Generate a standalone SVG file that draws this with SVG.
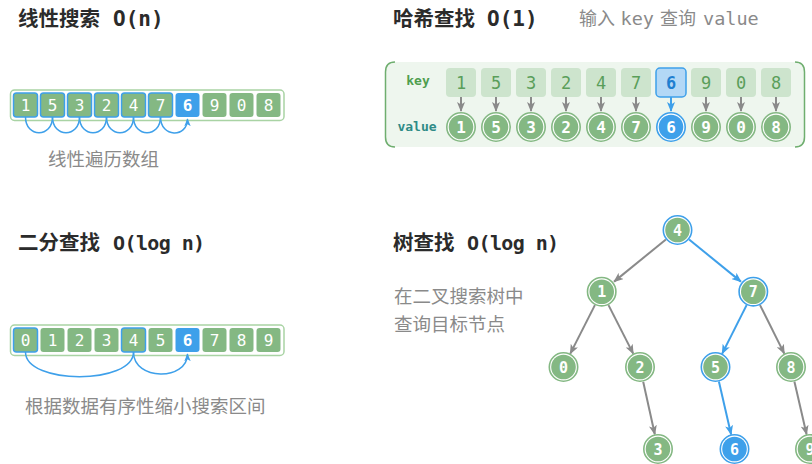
<svg xmlns="http://www.w3.org/2000/svg" width="812" height="464" viewBox="0 0 812 464">
<defs>
<style>
.title{font-family:"Noto Sans CJK SC","Noto Sans",sans-serif;font-weight:bold;font-size:20.5px;fill:#2b2b2b}
.mono{font-family:"DejaVu Sans Mono","Liberation Mono",monospace}
.tm{font-family:"DejaVu Sans Mono","Liberation Mono",monospace;font-size:21px}
.tl{font-family:"DejaVu Sans Mono","Liberation Mono",monospace;font-size:20px;letter-spacing:-0.6px}
.cap{font-family:"Noto Sans CJK SC","Noto Sans",sans-serif;font-size:18.5px;fill:#8a8a8a}
.cell{fill:#84b883}
.outer{fill:#fff;stroke:#a9d3a4;stroke-width:1.5}
.cd{font-family:"DejaVu Sans Mono","Liberation Mono",monospace;font-size:16px;fill:#fff;text-anchor:middle}
.sel{stroke:#3ea0ea;stroke-width:1.5}
.hl{fill:#3ea0ea}
.arc{fill:none;stroke:#3ea0ea;stroke-width:1.5}
.kbox{fill:#cde4cd}
.kt{font-family:"DejaVu Sans Mono","Liberation Mono",monospace;font-size:17px;fill:#5a9e5a;text-anchor:middle}
.vt{font-family:"DejaVu Sans Mono","Liberation Mono",monospace;font-size:16px;font-weight:bold;fill:#fff;text-anchor:middle}
.ga{stroke:#8a8a8a;stroke-width:2;fill:none}
.ba{stroke:#3ea0ea;stroke-width:2;fill:none}
.ring{fill:#fff;stroke:#84b883;stroke-width:1.6}
.ringb{fill:#fff;stroke:#3ea0ea;stroke-width:1.6}
.core{fill:#84b883}
.coreb{fill:#3ea0ea}
.sub{font-size:18px;fill:#8a8a8a}
</style>
<marker id="mg" viewBox="0 0 10 8" markerWidth="10" markerHeight="8" refX="9" refY="4" orient="auto" markerUnits="userSpaceOnUse"><path d="M0,0 L10,4 L0,8 L2.5,4 z" fill="#8a8a8a"/></marker>
<marker id="mb" viewBox="0 0 10 8" markerWidth="10" markerHeight="8" refX="9" refY="4" orient="auto" markerUnits="userSpaceOnUse"><path d="M0,0 L10,4 L0,8 L2.5,4 z" fill="#3ea0ea"/></marker>
<marker id="ms" viewBox="0 0 10 8" markerWidth="8" markerHeight="7" refX="9" refY="4" orient="auto" markerUnits="userSpaceOnUse"><path d="M0,0 L10,4 L0,8 L2.5,4 z" fill="#3ea0ea"/></marker>
</defs>

<!-- Titles -->
<text class="title" x="18" y="26">线性搜索<tspan class="tm" x="113">O(n)</tspan></text>
<text class="title" x="393" y="26">哈希查找<tspan class="tm" x="487">O(1)</tspan></text>
<text class="sub" y="25" style="font-family:'Noto Sans CJK SC','Noto Sans',sans-serif"><tspan x="579">输入</tspan><tspan x="620.5" class="mono" style="font-size:18.5px">key</tspan><tspan x="660">查询</tspan><tspan x="703" class="mono" style="font-size:18.5px">value</tspan></text>
<text class="title" x="18" y="250">二分查找<tspan class="tl" x="113">O(log n)</tspan></text>
<text class="title" x="393" y="250">树查找<tspan class="tl" x="467">O(log n)</tspan></text>

<!-- Linear search -->
<g id="linear-array">
<rect class="outer" x="10.5" y="90" width="273.5" height="30.5" rx="4"/>
<rect class="cell sel" x="13.5" y="93" width="24" height="24" rx="3"/>
<rect class="cell sel" x="40.5" y="93" width="24" height="24" rx="3"/>
<rect class="cell sel" x="67.5" y="93" width="24" height="24" rx="3"/>
<rect class="cell sel" x="94.5" y="93" width="24" height="24" rx="3"/>
<rect class="cell sel" x="121.5" y="93" width="24" height="24" rx="3"/>
<rect class="cell sel" x="148.5" y="93" width="24" height="24" rx="3"/>
<rect class="hl" x="175.5" y="93" width="24" height="24" rx="3"/>
<rect class="cell" x="202.5" y="93" width="24" height="24" rx="3"/>
<rect class="cell" x="229.5" y="93" width="24" height="24" rx="3"/>
<rect class="cell" x="256.5" y="93" width="24" height="24" rx="3"/>
<text class="cd" x="25.5" y="110.8">1</text>
<text class="cd" x="52.5" y="110.8">5</text>
<text class="cd" x="79.5" y="110.8">3</text>
<text class="cd" x="106.5" y="110.8">2</text>
<text class="cd" x="133.5" y="110.8">4</text>
<text class="cd" x="160.5" y="110.8">7</text>
<text class="cd" x="187.5" y="110.8" font-weight="bold">6</text>
<text class="cd" x="214.5" y="110.8">9</text>
<text class="cd" x="241.5" y="110.8">0</text>
<text class="cd" x="268.5" y="110.8">8</text>
</g>
<g id="linear-arcs">
<path class="arc" d="M25.5 117 C25.5 138 52.5 138 52.5 117"/>
<path class="arc" d="M52.5 117 C52.5 138 79.5 138 79.5 117"/>
<path class="arc" d="M79.5 117 C79.5 138 106.5 138 106.5 117"/>
<path class="arc" d="M106.5 117 C106.5 138 133.5 138 133.5 117"/>
<path class="arc" d="M133.5 117 C133.5 138 160.5 138 160.5 117"/>
<path class="arc" d="M160.5 117 C160.5 138 187.5 138 187.5 119" marker-end="url(#ms)"/>
</g>
<text class="cap" x="48" y="166">线性遍历数组</text>

<!-- Binary search -->
<g id="binary-array">
<rect class="outer" x="10.5" y="325" width="273.5" height="30.5" rx="4"/>
<rect class="cell sel" x="13.5" y="328" width="24" height="24" rx="3"/>
<rect class="cell" x="40.5" y="328" width="24" height="24" rx="3"/>
<rect class="cell" x="67.5" y="328" width="24" height="24" rx="3"/>
<rect class="cell" x="94.5" y="328" width="24" height="24" rx="3"/>
<rect class="cell sel" x="121.5" y="328" width="24" height="24" rx="3"/>
<rect class="cell" x="148.5" y="328" width="24" height="24" rx="3"/>
<rect class="hl" x="175.5" y="328" width="24" height="24" rx="3"/>
<rect class="cell" x="202.5" y="328" width="24" height="24" rx="3"/>
<rect class="cell" x="229.5" y="328" width="24" height="24" rx="3"/>
<rect class="cell" x="256.5" y="328" width="24" height="24" rx="3"/>
<text class="cd" x="25.5" y="345.8">0</text>
<text class="cd" x="52.5" y="345.8">1</text>
<text class="cd" x="79.5" y="345.8">2</text>
<text class="cd" x="106.5" y="345.8">3</text>
<text class="cd" x="133.5" y="345.8">4</text>
<text class="cd" x="160.5" y="345.8">5</text>
<text class="cd" x="187.5" y="345.8" font-weight="bold">6</text>
<text class="cd" x="214.5" y="345.8">7</text>
<text class="cd" x="241.5" y="345.8">8</text>
<text class="cd" x="268.5" y="345.8">9</text>
</g>
<g id="binary-arcs">
<path class="arc" d="M25.5 352 C25.5 385 133.5 385 133.5 352"/>
<path class="arc" d="M133.5 352 C133.5 381 187.5 381 187.5 354" marker-end="url(#ms)"/>
</g>
<text class="cap" x="25" y="413">根据数据有序性缩小搜索区间</text>

<!-- Hash -->
<g id="hash-panel">
<rect x="385" y="62" width="420" height="85" rx="8" fill="#eef6ee"/>
<path d="M395 62 Q385.5 62 385.5 72 L385.5 137 Q385.5 147 395 147" fill="none" stroke="#6fae6f" stroke-width="1.5"/>
<path d="M795 62 Q804.5 62 804.5 72 L804.5 137 Q804.5 147 795 147" fill="none" stroke="#6fae6f" stroke-width="1.5"/>
<text x="418" y="85" text-anchor="middle" class="mono" style="font-size:13px;font-weight:bold;fill:#4f9e4f">key</text>
<text x="417" y="131" text-anchor="middle" class="mono" style="font-size:13px;font-weight:bold;fill:#2e8b86">value</text>
</g>
<g id="hash-keys">
<rect class="kbox" x="446" y="68" width="30" height="29" rx="4"/>
<rect class="kbox" x="481" y="68" width="30" height="29" rx="4"/>
<rect class="kbox" x="516" y="68" width="30" height="29" rx="4"/>
<rect class="kbox" x="551" y="68" width="30" height="29" rx="4"/>
<rect class="kbox" x="586" y="68" width="30" height="29" rx="4"/>
<rect class="kbox" x="621" y="68" width="30" height="29" rx="4"/>
<rect x="656" y="68" width="30" height="29" rx="4" fill="#b3d8f6" stroke="#3ea0ea" stroke-width="1.5"/>
<rect class="kbox" x="691" y="68" width="30" height="29" rx="4"/>
<rect class="kbox" x="726" y="68" width="30" height="29" rx="4"/>
<rect class="kbox" x="761" y="68" width="30" height="29" rx="4"/>
<text class="kt" x="461" y="89">1</text>
<text class="kt" x="496" y="89">5</text>
<text class="kt" x="531" y="89">3</text>
<text class="kt" x="566" y="89">2</text>
<text class="kt" x="601" y="89">4</text>
<text class="kt" x="636" y="89">7</text>
<text class="kt" x="671" y="89" style="fill:#1f7fd0;font-weight:bold">6</text>
<text class="kt" x="706" y="89">9</text>
<text class="kt" x="741" y="89">0</text>
<text class="kt" x="776" y="89">8</text>
</g>
<g id="hash-arrows">
<line class="ga" x1="461" y1="97" x2="461" y2="111" marker-end="url(#mg)"/>
<line class="ga" x1="496" y1="97" x2="496" y2="111" marker-end="url(#mg)"/>
<line class="ga" x1="531" y1="97" x2="531" y2="111" marker-end="url(#mg)"/>
<line class="ga" x1="566" y1="97" x2="566" y2="111" marker-end="url(#mg)"/>
<line class="ga" x1="601" y1="97" x2="601" y2="111" marker-end="url(#mg)"/>
<line class="ga" x1="636" y1="97" x2="636" y2="111" marker-end="url(#mg)"/>
<line class="ba" x1="671" y1="97" x2="671" y2="111" marker-end="url(#mb)"/>
<line class="ga" x1="706" y1="97" x2="706" y2="111" marker-end="url(#mg)"/>
<line class="ga" x1="741" y1="97" x2="741" y2="111" marker-end="url(#mg)"/>
<line class="ga" x1="776" y1="97" x2="776" y2="111" marker-end="url(#mg)"/>
</g>
<g id="hash-values">
<circle class="ring" cx="461" cy="127" r="14.2"/><circle class="core" cx="461" cy="127" r="12.3"/><text class="vt" x="461" y="132.8">1</text>
<circle class="ring" cx="496" cy="127" r="14.2"/><circle class="core" cx="496" cy="127" r="12.3"/><text class="vt" x="496" y="132.8">5</text>
<circle class="ring" cx="531" cy="127" r="14.2"/><circle class="core" cx="531" cy="127" r="12.3"/><text class="vt" x="531" y="132.8">3</text>
<circle class="ring" cx="566" cy="127" r="14.2"/><circle class="core" cx="566" cy="127" r="12.3"/><text class="vt" x="566" y="132.8">2</text>
<circle class="ring" cx="601" cy="127" r="14.2"/><circle class="core" cx="601" cy="127" r="12.3"/><text class="vt" x="601" y="132.8">4</text>
<circle class="ring" cx="636" cy="127" r="14.2"/><circle class="core" cx="636" cy="127" r="12.3"/><text class="vt" x="636" y="132.8">7</text>
<circle class="ringb" cx="671" cy="127" r="14.2"/><circle class="coreb" cx="671" cy="127" r="12.3"/><text class="vt" x="671" y="132.8">6</text>
<circle class="ring" cx="706" cy="127" r="14.2"/><circle class="core" cx="706" cy="127" r="12.3"/><text class="vt" x="706" y="132.8">9</text>
<circle class="ring" cx="741" cy="127" r="14.2"/><circle class="core" cx="741" cy="127" r="12.3"/><text class="vt" x="741" y="132.8">0</text>
<circle class="ring" cx="776" cy="127" r="14.2"/><circle class="core" cx="776" cy="127" r="12.3"/><text class="vt" x="776" y="132.8">8</text>
</g>

<!-- Tree -->
<text class="cap" x="394" y="303">在二叉搜索树中</text>
<text class="cap" x="394" y="331">查询目标节点</text>
<g id="tree-edges">
<line class="ga" x1="665.9" y1="239.5" x2="614.1" y2="281.6" marker-end="url(#mg)"/>
<line class="ba" x1="689.1" y1="239.5" x2="740.9" y2="281.6" marker-end="url(#mb)"/>
<line class="ga" x1="594.9" y1="305.1" x2="570.3" y2="353.6" marker-end="url(#mg)"/>
<line class="ga" x1="608.5" y1="305.1" x2="633.2" y2="353.6" marker-end="url(#mg)"/>
<line class="ba" x1="746.6" y1="305.1" x2="722.2" y2="353.6" marker-end="url(#mb)"/>
<line class="ga" x1="760" y1="305.1" x2="784.3" y2="353.6" marker-end="url(#mg)"/>
<line class="ga" x1="643.2" y1="381.7" x2="654.8" y2="434.3" marker-end="url(#mg)"/>
<line class="ba" x1="718.9" y1="381.6" x2="731.1" y2="434.4" marker-end="url(#mb)"/>
<line class="ga" x1="794.4" y1="381.6" x2="806.6" y2="434.4" marker-end="url(#mg)"/>
</g>
<g id="node-4"><circle class="ringb" cx="677.5" cy="230" r="14.2"/><circle class="core" cx="677.5" cy="230" r="12.3"/><text class="vt" x="677.5" y="235.5" style="font-size:15px">4</text></g>
<g id="node-1"><circle class="ring" cx="601.7" cy="291.7" r="14.2"/><circle class="core" cx="601.7" cy="291.7" r="12.3"/><text class="vt" x="601.7" y="297.2" style="font-size:15px">1</text></g>
<g id="node-7"><circle class="ringb" cx="753.3" cy="291.7" r="14.2"/><circle class="core" cx="753.3" cy="291.7" r="12.3"/><text class="vt" x="753.3" y="297.2" style="font-size:15px">7</text></g>
<g id="node-0"><circle class="ring" cx="563.5" cy="367" r="14.2"/><circle class="core" cx="563.5" cy="367" r="12.3"/><text class="vt" x="563.5" y="372.5" style="font-size:15px">0</text></g>
<g id="node-2"><circle class="ring" cx="640" cy="367" r="14.2"/><circle class="core" cx="640" cy="367" r="12.3"/><text class="vt" x="640" y="372.5" style="font-size:15px">2</text></g>
<g id="node-5"><circle class="ringb" cx="715.5" cy="367" r="14.2"/><circle class="core" cx="715.5" cy="367" r="12.3"/><text class="vt" x="715.5" y="372.5" style="font-size:15px">5</text></g>
<g id="node-8"><circle class="ring" cx="791" cy="367" r="14.2"/><circle class="core" cx="791" cy="367" r="12.3"/><text class="vt" x="791" y="372.5" style="font-size:15px">8</text></g>
<g id="node-3"><circle class="ring" cx="658" cy="449" r="14.2"/><circle class="core" cx="658" cy="449" r="12.3"/><text class="vt" x="658" y="454.5" style="font-size:15px">3</text></g>
<g id="node-6"><circle class="ringb" cx="734.5" cy="449" r="14.2"/><circle class="coreb" cx="734.5" cy="449" r="12.3"/><text class="vt" x="734.5" y="454.5" style="font-size:15px">6</text></g>
<g id="node-9"><circle class="ring" cx="810" cy="449" r="14.2"/><circle class="core" cx="810" cy="449" r="12.3"/><text class="vt" x="810" y="454.5" style="font-size:15px">9</text></g>
</svg>
